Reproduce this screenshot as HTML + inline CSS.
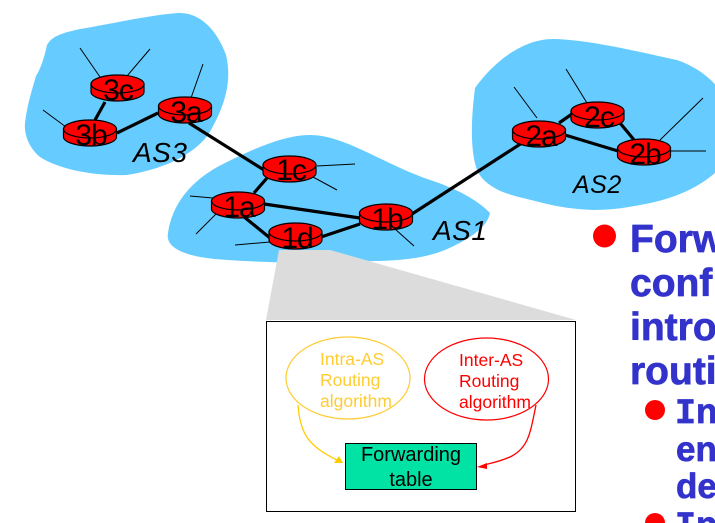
<!DOCTYPE html>
<html><head><meta charset="utf-8">
<style>
html,body{margin:0;padding:0;background:#fff;width:715px;height:523px;overflow:hidden}
svg{display:block}
.r{font-family:"Liberation Sans",sans-serif;font-size:30px;fill:#000;text-anchor:middle;letter-spacing:-1px}
.as{font-family:"Liberation Sans",sans-serif;font-size:28px;font-style:italic;fill:#000;letter-spacing:.5px}
.t{font-family:"Liberation Sans",sans-serif;font-size:17.5px}
.b{font-family:"Liberation Sans",sans-serif;font-weight:bold;fill:#3333cc;stroke:#3333cc;stroke-width:.7px;stroke-linejoin:round}
.m{font-family:"Liberation Mono",monospace}
</style></head><body>
<svg width="715" height="523" viewBox="0 0 715 523" xmlns="http://www.w3.org/2000/svg">
<defs>
<g id="rt">
<path d="M-26.5,-4 V4 C-26.5,9 -14,13 0,13 C14,13 26.5,9 26.5,4 V-4 Z" fill="#f00" stroke="#000" stroke-width="1.2"/>
<ellipse cx="0" cy="-4" rx="26.5" ry="9" fill="#f00" stroke="#000" stroke-width="1.2"/>
</g>
</defs>
<!-- AS blobs -->
<path fill="#66ccff" d="M36,76 C41,68 44,58 47,45 C52,36 62,33 80,29 C110,24 150,15 178,13 C200,12 217,30 226,55 C232,80 226,105 208,135 C195,152 170,168 127,175 C95,176 60,170 40,157 C28,147 24,133 25,123 C27,105 32,90 36,76 Z"/>
<path fill="#66ccff" d="M168,233 C172,205 190,180 225,163 C255,148 285,135 310,135 C345,135 385,165 430,180 C455,188 478,200 490,213 C487,228 468,240 445,250 C420,260 390,262 340,261 C300,264 250,262 215,259 C185,256 165,248 168,233 Z"/>
<path fill="#66ccff" d="M475,88 C495,60 525,38 555,39 C590,40 640,52 677,60 C700,68 722,85 726,105 C730,135 722,160 715,173 C695,190 670,200 640,205 C620,209 605,210 593,210 C570,209 555,206 543,203 C525,198 505,195 493,187 C485,182 480,177 477,170 C470,150 471,120 475,88 Z"/>
<!-- zoom wedge -->
<polygon points="279,250 330,250 576,320 266,320" fill="#dcdcdc"/>
<!-- thin lines -->
<g stroke="#000" stroke-width="1" fill="none">
<line x1="80" y1="48" x2="100" y2="77"/><line x1="150" y1="49" x2="127" y2="76"/>
<line x1="43" y1="110" x2="66" y2="127"/><line x1="203" y1="64" x2="191" y2="98"/>
<line x1="317" y1="166" x2="355" y2="164"/><line x1="313" y1="177" x2="337" y2="190"/>
<line x1="190" y1="196" x2="213" y2="198"/><line x1="216" y1="214" x2="196" y2="234"/>
<line x1="235" y1="245" x2="270" y2="242"/><line x1="395" y1="229" x2="414" y2="246"/>
<line x1="514" y1="87" x2="537" y2="118"/><line x1="566" y1="69" x2="587" y2="103"/>
<line x1="703" y1="98" x2="660" y2="140"/><line x1="670" y1="151" x2="706" y2="151"/>
</g>
<!-- thick links -->
<g stroke="#000" stroke-width="3.200" fill="none">
<line x1="105" y1="102" x2="95" y2="120"/><line x1="117" y1="133" x2="158" y2="113"/>
<line x1="189" y1="123" x2="264" y2="170"/>
<line x1="267" y1="178" x2="254" y2="193"/>
<line x1="264" y1="204" x2="360" y2="218"/>
<line x1="243" y1="216" x2="270" y2="238"/>
<line x1="321" y1="237" x2="360" y2="224"/>
<line x1="412" y1="214" x2="525" y2="141"/>
<line x1="559" y1="123" x2="572" y2="114"/>
<line x1="565" y1="135" x2="618" y2="151"/>
<line x1="620" y1="123" x2="635" y2="141"/>
</g>
<!-- routers -->
<use href="#rt" x="117.500" y="88"/><text class="r" x="118" y="100">3c</text>
<use href="#rt" x="185" y="110"/><text class="r" x="186" y="122">3a</text>
<use href="#rt" x="90" y="133"/><text class="r" x="91" y="145">3b</text>
<use href="#rt" x="289.500" y="169"/><text class="r" x="291" y="180">1c</text>
<use href="#rt" x="238" y="205"/><text class="r" x="239" y="217">1a</text>
<use href="#rt" x="295.500" y="236"/><text class="r" x="297" y="248">1d</text>
<use href="#rt" x="386" y="217"/><text class="r" x="387" y="229">1b</text>
<use href="#rt" x="539" y="134"/><text class="r" x="541" y="146">2a</text>
<use href="#rt" x="597.500" y="115"/><text class="r" x="599" y="127">2c</text>
<use href="#rt" x="644" y="152"/><text class="r" x="645" y="164">2b</text>
<text class="as" x="133" y="162">AS3</text>
<text class="as" x="433" y="240">AS1</text>
<text class="as" x="573" y="193" style="font-size:25px">AS2</text>
<!-- detail box -->
<rect x="266.500" y="321.500" width="309" height="190" fill="#fff" stroke="#000" stroke-width="1"/>
<ellipse cx="348" cy="378" rx="62" ry="41" fill="none" stroke="#ffcc33" stroke-width="1.200"/>
<ellipse cx="486.500" cy="379" rx="62" ry="41" fill="none" stroke="#f00" stroke-width="1.200"/>
<g class="t" fill="#ffcc33"><text x="320" y="365">Intra-AS</text><text x="320" y="386">Routing</text><text x="320" y="407">algorithm</text></g>
<g class="t" fill="#f00"><text x="459" y="366">Inter-AS</text><text x="459" y="387">Routing</text><text x="459" y="408">algorithm</text></g>
<path d="M298,405 C300,435 310,447 337,460" fill="none" stroke="#ffcc00" stroke-width="1.300"/>
<polygon points="343,463 334,463 339,456" fill="#ffcc00"/>
<path d="M536,405 C530,435 528,447 512,456 C502,461 492,463 484,465" fill="none" stroke="#f00" stroke-width="1.300"/>
<polygon points="477,467 487,463 487,469" fill="#f00"/>
<rect x="345.500" y="443.500" width="131" height="46" fill="#00e3a5" stroke="#000" stroke-width="1"/>
<text x="411" y="461" font-family="'Liberation Sans',sans-serif" font-size="20" text-anchor="middle" fill="#000">Forwarding</text>
<text x="411" y="486" font-family="'Liberation Sans',sans-serif" font-size="20" text-anchor="middle" fill="#000">table</text>
<!-- bullets -->
<circle cx="604.500" cy="236" r="11.500" fill="#f00"/>
<g class="b" font-size="39">
<text x="630" y="252">Forw</text><text x="630" y="296">conf</text><text x="630" y="340">intro</text><text x="630" y="384">routi</text>
</g>
<circle cx="655" cy="410" r="10" fill="#f00"/>
<circle cx="655" cy="523" r="10" fill="#f00"/>
<g class="b" font-size="35">
<text x="675" y="423"><tspan class="m">I</tspan>nt</text><text x="676" y="461">ent</text><text x="676" y="498">de</text><text x="675" y="536"><tspan class="m">I</tspan>nt</text>
</g>
</svg>
</body></html>
